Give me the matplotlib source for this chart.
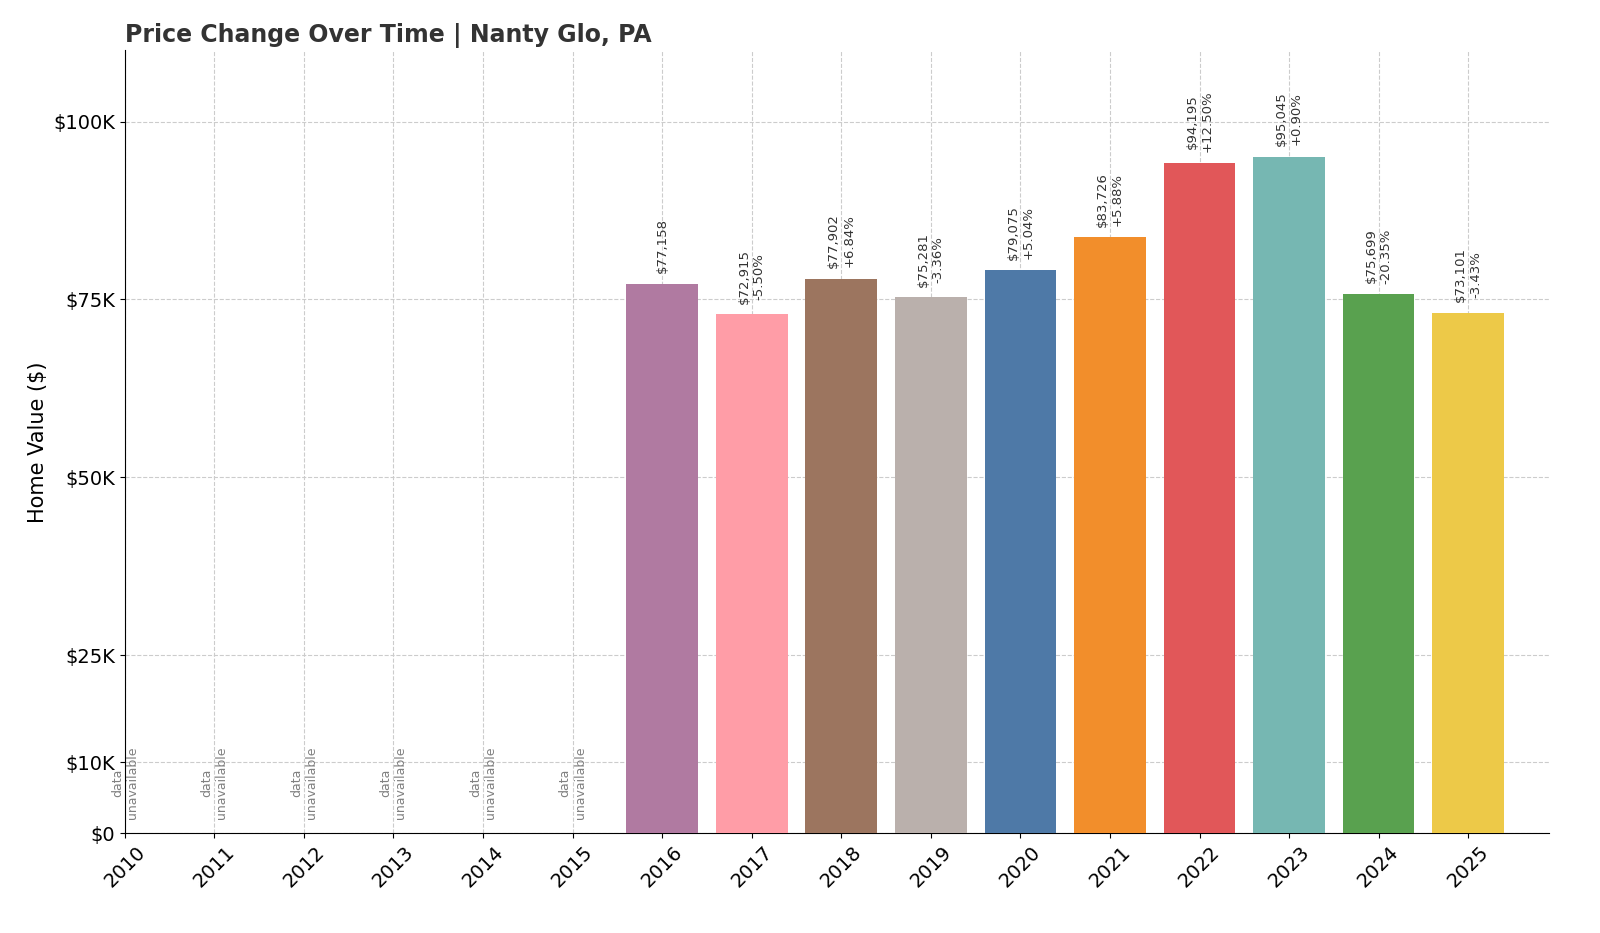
import matplotlib.pyplot as plt
import numpy as np

years = list(range(2010, 2026))
values = [None] * 6 + [77158, 72915, 77902, 75281, 79075, 83726, 94195, 95045, 75699, 73101]
changes = [None] * 7 + ["-5.50%", "+6.84%", "-3.36%", "+5.04%", "+5.88%", "+12.50%", "+0.90%", "-20.35%", "-3.43%"]
colors = ["#b07aa1", "#ff9da7", "#9c755f", "#bab0ac", "#4e79a7",
          "#f28e2b", "#e15759", "#76b7b2", "#59a14f", "#edc948"]
yticks = [0, 10000, 25000, 50000, 75000, 100000]
ytick_labels = ["$0", "$10K", "$25K", "$50K", "$75K", "$100K"]

fig, ax = plt.subplots(figsize=(16, 9.33), dpi=100)
fig.subplots_adjust(left=0.078, right=0.968, top=0.946, bottom=0.107)

x = np.arange(len(years))
ci = 0
for i, v in enumerate(values):
    if v is None:
        ax.text(i, 2000, "data\nunavailable", rotation=90, ha="center", va="bottom",
                fontsize=9, color="gray")
        continue
    ax.bar(i, v, width=0.8, color=colors[ci], zorder=3)
    ci += 1
    label = f"${v:,}"
    if changes[i]:
        label += "\n" + changes[i]
    ax.text(i, v + 1500, label, rotation=90, ha="center", va="bottom",
            fontsize=9.5, color="#333333")

ax.set_xlim(0, 15.9)
ax.set_ylim(0, 110000)
ax.set_xticks(x)
ax.set_xticklabels([str(y) for y in years], rotation=45, fontsize=14)
ax.set_yticks(yticks)
ax.set_yticklabels(ytick_labels, fontsize=14)
ax.set_ylabel("Home Value ($)", fontsize=15)
ax.set_title("Price Change Over Time | Nanty Glo, PA", loc="left", fontsize=17,
             fontweight="bold", color="#333333")
ax.grid(True, linestyle="--", color="#cccccc", zorder=0)
ax.spines["top"].set_visible(False)
ax.spines["right"].set_visible(False)
plt.savefig("out.png")
plt.close()
